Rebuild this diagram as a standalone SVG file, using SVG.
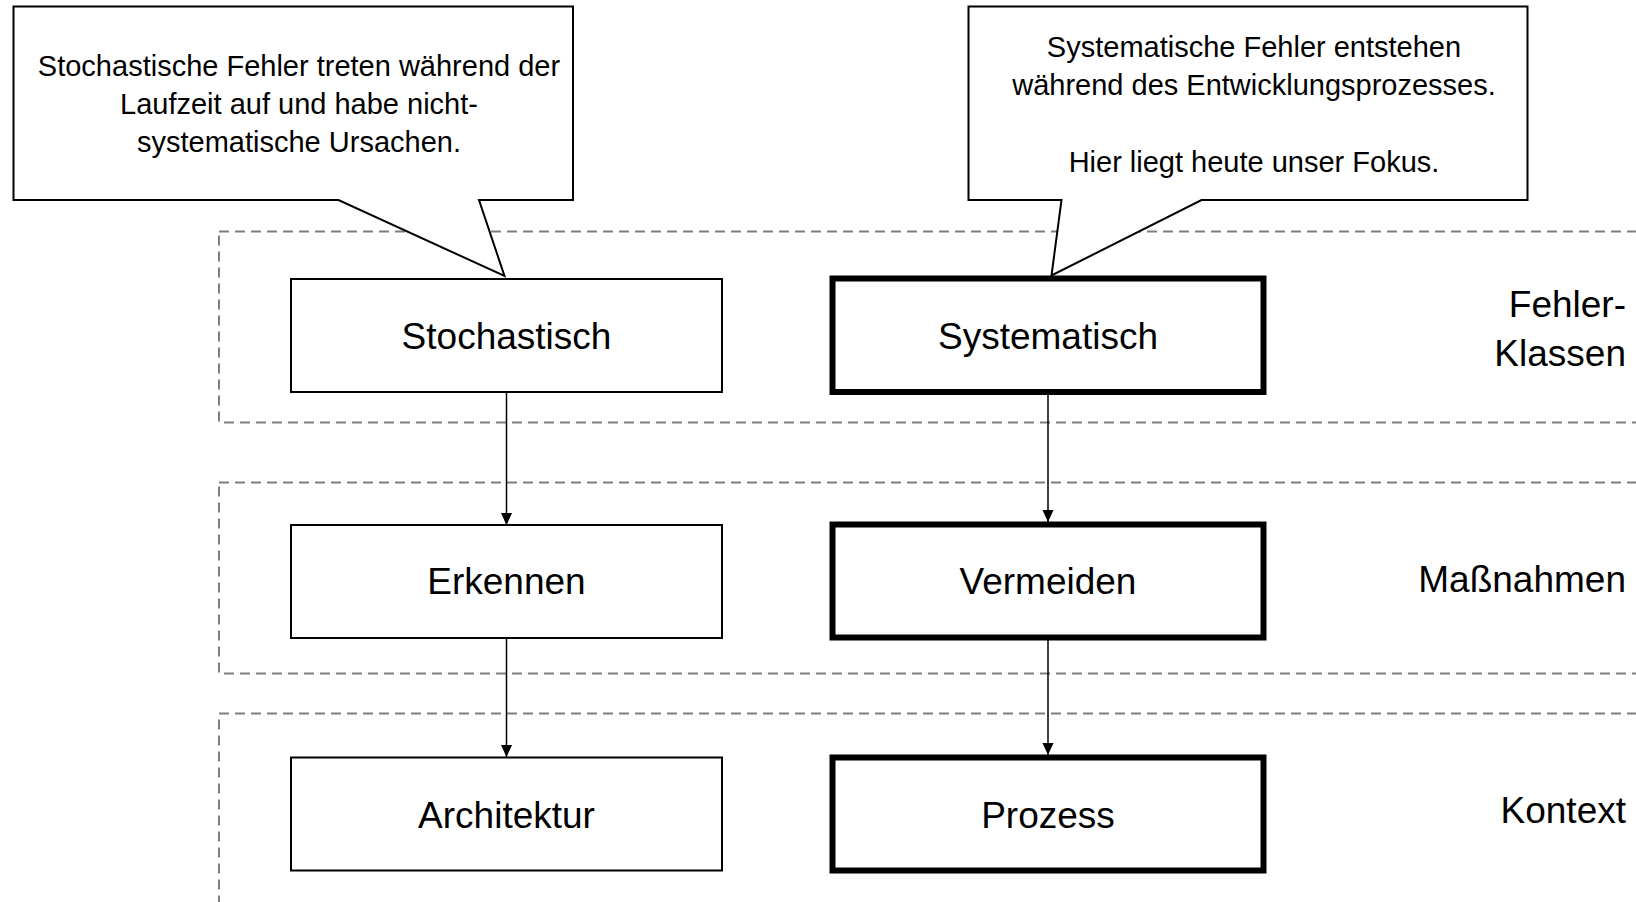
<svg xmlns="http://www.w3.org/2000/svg" width="1636" height="902" viewBox="0 0 1636 902">
  <style>
    text { font-family: "Liberation Sans", Arial, sans-serif; fill: #000; }
    .lane { fill: none; stroke: #7f7f7f; stroke-width: 2; stroke-dasharray: 10 6; }
    .box { fill: #fff; stroke: #000; stroke-width: 2; }
    .box-strong { fill: #fff; stroke: #000; stroke-width: 6; }
    .node-label { font-size: 37px; text-anchor: middle; }
    .lane-label { font-size: 37px; text-anchor: end; }
    .callout { fill: #fff; stroke: #000; stroke-width: 2; stroke-linejoin: miter; }
    .callout-text { font-size: 29px; text-anchor: middle; }
    .edge { fill: none; stroke: #000; stroke-width: 1.5; marker-end: url(#arrow); }
  </style>
  <defs>
    <marker id="arrow" markerUnits="userSpaceOnUse" markerWidth="12" markerHeight="13" refX="13" refY="6" orient="auto" viewBox="0 0 13 12">
      <path d="M0,0 L13,6 L0,12 z" fill="#000"/>
    </marker>
  </defs>

  <rect width="1636" height="902" fill="#fff"/>

  <!-- swimlanes -->
  <g id="lane-fehlerklassen">
    <rect class="lane" x="219" y="231.5" width="1440" height="191"/>
    <text class="lane-label" x="1626" y="317">Fehler-</text>
    <text class="lane-label" x="1626" y="366">Klassen</text>
  </g>
  <g id="lane-massnahmen">
    <rect class="lane" x="219" y="482.5" width="1440" height="191"/>
    <text class="lane-label" x="1626" y="592">Maßnahmen</text>
  </g>
  <g id="lane-kontext">
    <rect class="lane" x="219" y="713.5" width="1440" height="240"/>
    <text class="lane-label" x="1626" y="823">Kontext</text>
  </g>

  <!-- connectors -->
  <g id="connectors">
    <line class="edge" x1="506.5" y1="392" x2="506.5" y2="525"/>
    <line class="edge" x1="506.5" y1="638" x2="506.5" y2="757"/>
    <line class="edge" x1="1048" y1="395" x2="1048" y2="522"/>
    <line class="edge" x1="1048" y1="640" x2="1048" y2="755"/>
  </g>

  <!-- nodes -->
  <g id="node-stochastisch">
    <rect class="box" x="291" y="279" width="431" height="113"/>
    <text class="node-label" x="506.5" y="349">Stochastisch</text>
  </g>
  <g id="node-systematisch">
    <rect class="box-strong" x="832.5" y="278.5" width="431" height="113.5"/>
    <text class="node-label" x="1048" y="349">Systematisch</text>
  </g>
  <g id="node-erkennen">
    <rect class="box" x="291" y="525" width="431" height="113"/>
    <text class="node-label" x="506.5" y="594">Erkennen</text>
  </g>
  <g id="node-vermeiden">
    <rect class="box-strong" x="832.5" y="524.5" width="431" height="113"/>
    <text class="node-label" x="1048" y="594">Vermeiden</text>
  </g>
  <g id="node-architektur">
    <rect class="box" x="291" y="757.5" width="431" height="113"/>
    <text class="node-label" x="506.5" y="828">Architektur</text>
  </g>
  <g id="node-prozess">
    <rect class="box-strong" x="832.5" y="757.5" width="431" height="113"/>
    <text class="node-label" x="1048" y="828">Prozess</text>
  </g>

  <!-- callouts -->
  <g id="callout-stochastisch">
    <path class="callout" d="M13.5,6.5 H573 V200 H479 L504.5,276 L338.5,200 H13.5 Z"/>
    <text class="callout-text" x="299" y="76">Stochastische Fehler treten während der</text>
    <text class="callout-text" x="299" y="114">Laufzeit auf und habe nicht-</text>
    <text class="callout-text" x="299" y="152">systematische Ursachen.</text>
  </g>
  <g id="callout-systematisch">
    <path class="callout" d="M968.5,6.5 H1527.5 V200 H1201.5 L1051.5,275.5 L1061.5,200 H968.5 Z"/>
    <text class="callout-text" x="1254" y="57">Systematische Fehler entstehen</text>
    <text class="callout-text" x="1254" y="95">während des Entwicklungsprozesses.</text>
    <text class="callout-text" x="1254" y="172">Hier liegt heute unser Fokus.</text>
  </g>
</svg>
